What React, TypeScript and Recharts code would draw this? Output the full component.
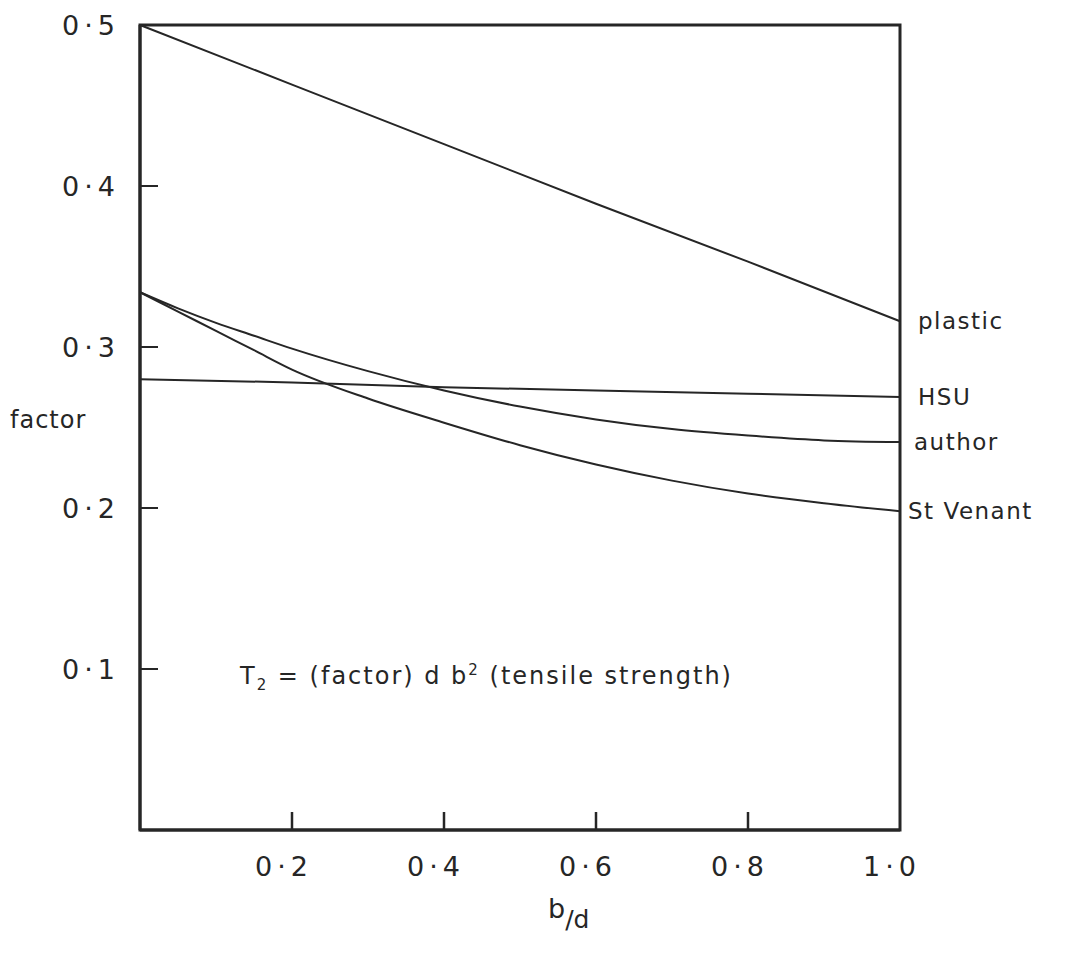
import React from 'react';
import {
  LineChart,
  Line,
  XAxis,
  YAxis,
  ReferenceArea,
  ReferenceLine,
} from 'recharts';

// b/d positions where the curves were read
const curveX = [0, 0.05, 0.1, 0.15, 0.2, 0.3, 0.4, 0.5, 0.6, 0.7, 0.8, 0.9, 1.0];
const straightX = [0, 0.2, 0.4, 0.6, 0.8, 1.0];

// factor values
const plasticValues = [0.5, 0.463, 0.426, 0.389, 0.353, 0.316];
const hsuValues = [0.28, 0.278, 0.275, 0.273, 0.271, 0.269];
const authorValues = [0.334, 0.324, 0.315, 0.307, 0.299, 0.285, 0.273, 0.263, 0.255, 0.249, 0.245, 0.242, 0.241];
const stVenantValues = [0.334, 0.322, 0.31, 0.298, 0.286, 0.268, 0.253, 0.239, 0.227, 0.217, 0.209, 0.203, 0.198];

const xTicks = [0.2, 0.4, 0.6, 0.8, 1.0];
const xTickLabels = ['0·2', '0·4', '0·6', '0·8', '1·0'];
const yTicks = [0.1, 0.2, 0.3, 0.4, 0.5];
const yTickLabels = ['0·1', '0·2', '0·3', '0·4', '0·5'];

const INK = '#262626';
const FONT = '"DejaVu Sans", "Liberation Sans", sans-serif';

const toRows = (xs: number[], ys: number[]) => xs.map((x, i) => ({ x, y: ys[i] }));

const plasticData = toRows(straightX, plasticValues);
const hsuData = toRows(straightX, hsuValues);
const authorData = toRows(curveX, authorValues);
const stVenantData = toRows(curveX, stVenantValues);

const XTick = (props: any) => {
  const { x, y, payload } = props;
  const i = xTicks.indexOf(payload.value);
  return (
    <g>
      {payload.value < 1 && <line x1={x} x2={x} y1={y} y2={y - 18} stroke={INK} strokeWidth={2.5} />}
      <text
        x={x - 8}
        y={y + 46}
        textAnchor="middle"
        fontFamily={FONT}
        fontSize={27}
        fill={INK}
        letterSpacing={5}
      >
        {xTickLabels[i]}
      </text>
    </g>
  );
};

const YTick = (props: any) => {
  const { x, y, payload } = props;
  const i = yTicks.indexOf(payload.value);
  return (
    <g>
      {payload.value < 0.5 && <line x1={x} x2={x + 18} y1={y} y2={y} stroke={INK} strokeWidth={2} />}
      <text
        x={x - 20}
        y={y + 10}
        textAnchor="end"
        fontFamily={FONT}
        fontSize={27}
        fill={INK}
        letterSpacing={5}
      >
        {yTickLabels[i]}
      </text>
    </g>
  );
};

const endLabel = (text: string, last: number, dx: number) => (props: any) => {
  const { x, y, index } = props;
  if (index !== last) return null;
  return (
    <text x={x + dx} y={y + 8} fontFamily={FONT} fontSize={23} fill={INK} letterSpacing={1.5}>
      {text}
    </text>
  );
};

export default function App() {
  return (
    <div style={{ position: 'absolute', left: 0, top: 0, background: '#fff' }}>
      <LineChart width={1075} height={957} margin={{ top: 25, right: 175, bottom: 0, left: 0 }}>
        <XAxis
          dataKey="x"
          type="number"
          domain={[0, 1]}
          ticks={xTicks}
          height={127}
          tickSize={0}
          tickMargin={0}
          axisLine={{ stroke: INK, strokeWidth: 3 }}
          tick={<XTick />}
          allowDuplicatedCategory={false}
          label={{
            content: () => (
              <text x={548} y={918} fontFamily={FONT} fontSize={27} fill={INK}>
                <tspan>b</tspan>
                <tspan dy={10} fontSize={25}>/d</tspan>
              </text>
            ),
          }}
        />
        <YAxis
          type="number"
          domain={[0, 0.5]}
          ticks={yTicks}
          width={140}
          tickSize={0}
          tickMargin={0}
          axisLine={{ stroke: INK, strokeWidth: 3 }}
          tick={<YTick />}
          label={{
            content: () => (
              <text x={10} y={428} fontFamily={FONT} fontSize={24} fill={INK} letterSpacing={1}>
                factor
              </text>
            ),
          }}
        />
        <ReferenceArea x1={0} x2={1} y1={0} y2={0.5} fill="none" stroke={INK} strokeWidth={3} />
        <ReferenceLine
          y={0.1}
          stroke="none"
          label={{
            content: () => (
              <text x={240} y={684} fontFamily={FONT} fontSize={24} fill={INK} letterSpacing={2}>
                <tspan>T</tspan>
                <tspan dy={6} fontSize={15}>2</tspan>
                <tspan dy={-6}>{'  =  (factor)  d b'}</tspan>
                <tspan dy={-9} fontSize={15}>2</tspan>
                <tspan dy={9}>{'  (tensile  strength)'}</tspan>
              </text>
            ),
          }}
        />
        <Line
          data={plasticData}
          dataKey="y"
          type="linear"
          stroke={INK}
          strokeWidth={2}
          dot={false}
          isAnimationActive={false}
          label={endLabel('plastic', plasticData.length - 1, 18)}
        />
        <Line
          data={hsuData}
          dataKey="y"
          type="linear"
          stroke={INK}
          strokeWidth={2}
          dot={false}
          isAnimationActive={false}
          label={endLabel('HSU', hsuData.length - 1, 18)}
        />
        <Line
          data={authorData}
          dataKey="y"
          type="monotone"
          stroke={INK}
          strokeWidth={2}
          dot={false}
          isAnimationActive={false}
          label={endLabel('author', authorData.length - 1, 14)}
        />
        <Line
          data={stVenantData}
          dataKey="y"
          type="monotone"
          stroke={INK}
          strokeWidth={2}
          dot={false}
          isAnimationActive={false}
          label={endLabel('St Venant', stVenantData.length - 1, 8)}
        />
      </LineChart>
    </div>
  );
}
